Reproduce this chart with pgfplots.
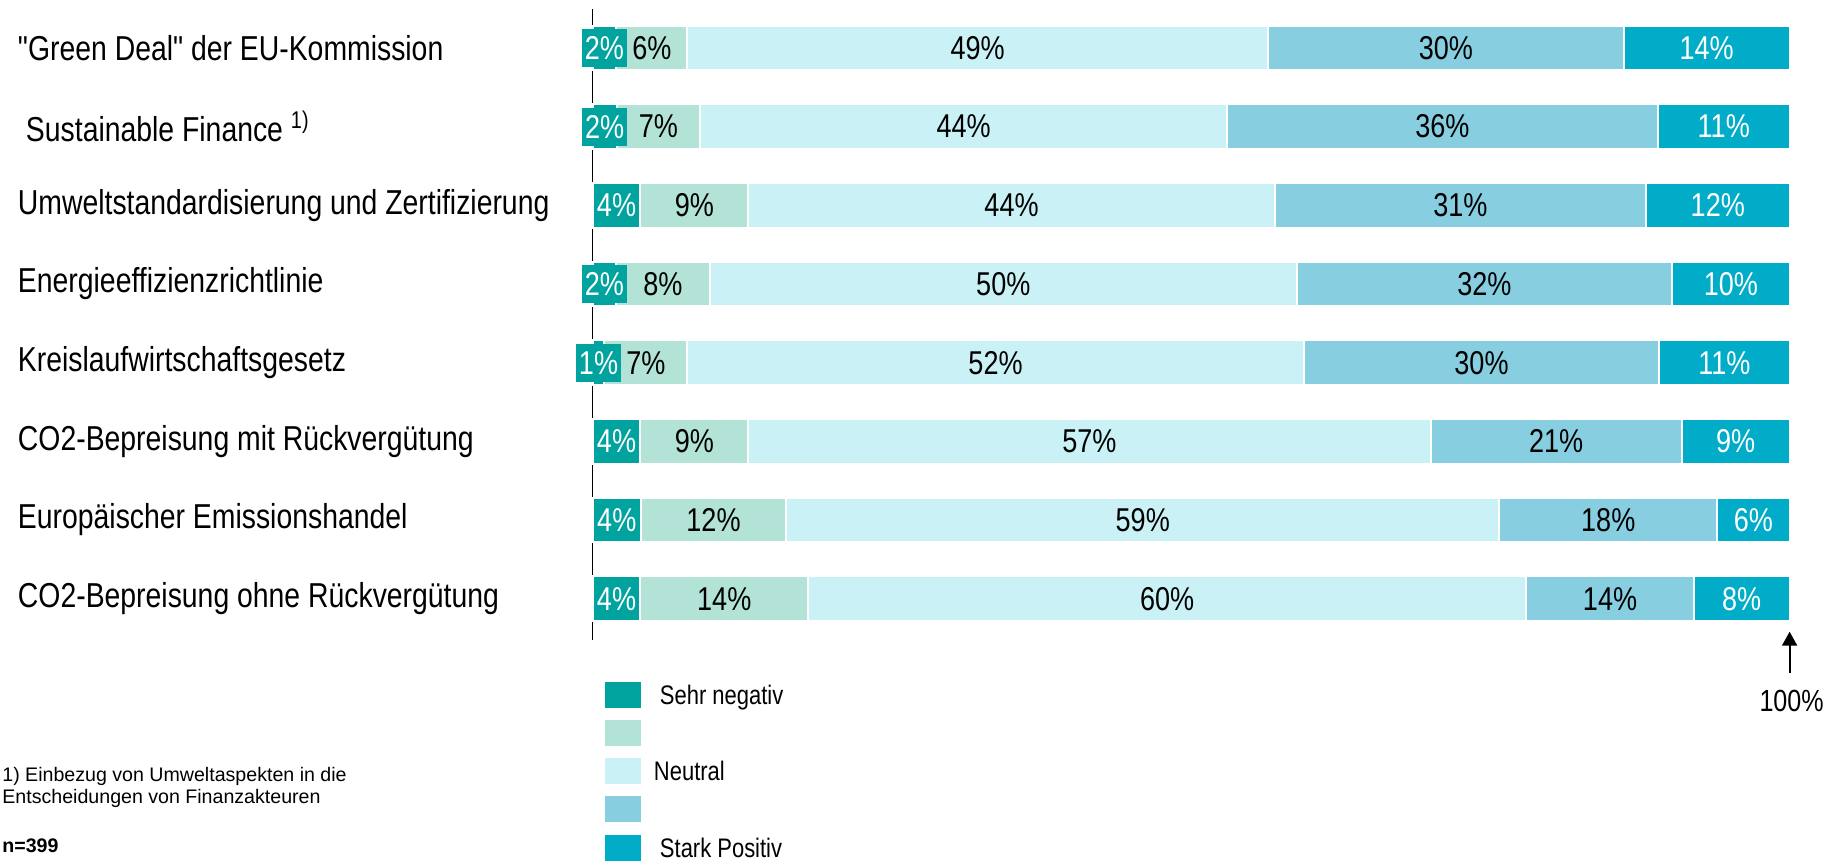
\documentclass[border=0pt]{standalone}
\usepackage{pgfplots}
\pgfplotsset{compat=1.18}
\usepackage{pgfplotstable}
\usetikzlibrary{arrows.meta}
\usepackage{fontspec}
\setmainfont{Liberation Sans}[FakeStretch=0.82, Ligatures=TeXOff]
\newfontfamily\regfont{Liberation Sans}

\definecolor{sneg}{RGB}{0,163,158}
\definecolor{lneg}{RGB}{179,227,214}
\definecolor{neut}{RGB}{202,242,246}
\definecolor{lpos}{RGB}{134,206,224}
\definecolor{spos}{RGB}{0,172,200}

\pgfplotstableread{
y a b c d e la lb lc ld le
1 1.98 5.94 48.51 29.70 13.87 2 6 49 30 14
2 2 7 44 36 11 2 7 44 36 11
3 4 9 44 31 12 4 9 44 31 12
4 1.96 7.84 49.02 31.37 9.81 2 8 50 32 10
5 0.99 6.93 51.49 29.70 10.89 1 7 52 30 11
6 4 9 57 21 9 4 9 57 21 9
7 4.04 12.12 59.60 18.18 6.06 4 12 59 18 6
8 4 14 60 14 8 4 14 60 14 8
}\datatable

\begin{document}
\begin{tikzpicture}
\useasboundingbox (-296.3pt,-111.2pt) rectangle (623.7pt,319.8pt);
\begin{axis}[
  at={(0,0)}, anchor=south west,
  scale only axis,
  width=598.5pt, height=315.1pt,
  xbar stacked,
  bar width=22.3pt,
  xmin=0, xmax=100,
  ymin=0.51, ymax=8.52,
  y dir=reverse,
  clip=false,
  axis x line=none,
  axis y line*=left,
  y axis line style={line width=0.8pt, black},
  xtick=\empty,
  ytick={1,...,8},
  major tick length=0pt,
  yticklabels={{"Green Deal" der EU-Kommission},
    {\hspace*{4pt}Sustainable Finance \textsuperscript{1)}},
    {Umweltstandardisierung und Zertifizierung},
    {Energieeffizienzrichtlinie},
    {Kreislaufwirtschaftsgesetz},
    {CO2-Bepreisung mit Rückvergütung},
    {Europäischer Emissionshandel},
    {CO2-Bepreisung ohne Rückvergütung}},
  yticklabel style={anchor=west, inner sep=0pt, xshift=-287.5pt,
    font=\fontsize{17.3}{20}\selectfont},
  point meta=explicit symbolic,
  nodes near coords={\pgfplotspointmeta\%},
  legend image code/.code={\fill[#1,draw=none] (0pt,-4.7pt) rectangle (18pt,8.3pt); \path (27pt,0pt);},
  legend cell align=left,
  legend style={at={(axis description cs:0,0)}, anchor=north west,
    xshift=6.2pt, yshift=-21.05pt,
    draw=none, fill=none, inner sep=0pt, outer sep=0pt, row sep=4.3pt,
    nodes={inner sep=0pt, text height=9.5pt, text depth=3.5pt,
      font=\fontsize{13.4}{15}\selectfont}},
  legend entries={Sehr negativ,\mbox{},\hspace*{-3pt}Neutral,\mbox{},Stark Positiv},
]
\addplot[fill=sneg, draw=white, line width=1pt,
  every node near coord/.append style={anchor=center,
    text=white, fill=sneg, inner xsep=1.5pt, inner ysep=0pt, minimum height=19pt,
    font=\fontsize{16.5}{19}\selectfont}]
  table[x=a, y=y, meta=la]{\datatable};
\addplot[fill=lneg, draw=white, line width=1pt,
  every node near coord/.append style={anchor=center,
    text=black, font=\fontsize{16.5}{19}\selectfont}]
  table[x=b, y=y, meta=lb]{\datatable};
\addplot[fill=neut, draw=white, line width=1pt,
  every node near coord/.append style={anchor=center,
    text=black, font=\fontsize{16.5}{19}\selectfont}]
  table[x=c, y=y, meta=lc]{\datatable};
\addplot[fill=lpos, draw=white, line width=1pt,
  every node near coord/.append style={anchor=center,
    text=black, font=\fontsize{16.5}{19}\selectfont}]
  table[x=d, y=y, meta=ld]{\datatable};
\addplot[fill=spos, draw=white, line width=1pt,
  every node near coord/.append style={anchor=center,
    text=white, font=\fontsize{16.5}{19}\selectfont}]
  table[x=e, y=y, meta=le]{\datatable};
\end{axis}
\draw[line width=1pt, -{Triangle[length=7pt,width=7.5pt]}] (598.5pt,-16.7pt) -- (598.5pt,3.95pt);
\node[anchor=base, inner sep=0pt, font=\fontsize{15.3}{18}\selectfont] at (599.5pt,-36.05pt) {100\%};
\node[anchor=base west, inner sep=0pt, align=left, font=\regfont\fontsize{9.8}{10.65}\selectfont] at (-295.3pt,-81.7pt)
  {1) Einbezug von Umweltaspekten in die\\Entscheidungen von Finanzakteuren};
\node[anchor=base west, inner sep=0pt, font=\regfont\bfseries\fontsize{9.8}{11}\selectfont] at (-295.3pt,-106.2pt) {n=399};
\end{tikzpicture}
\end{document}
